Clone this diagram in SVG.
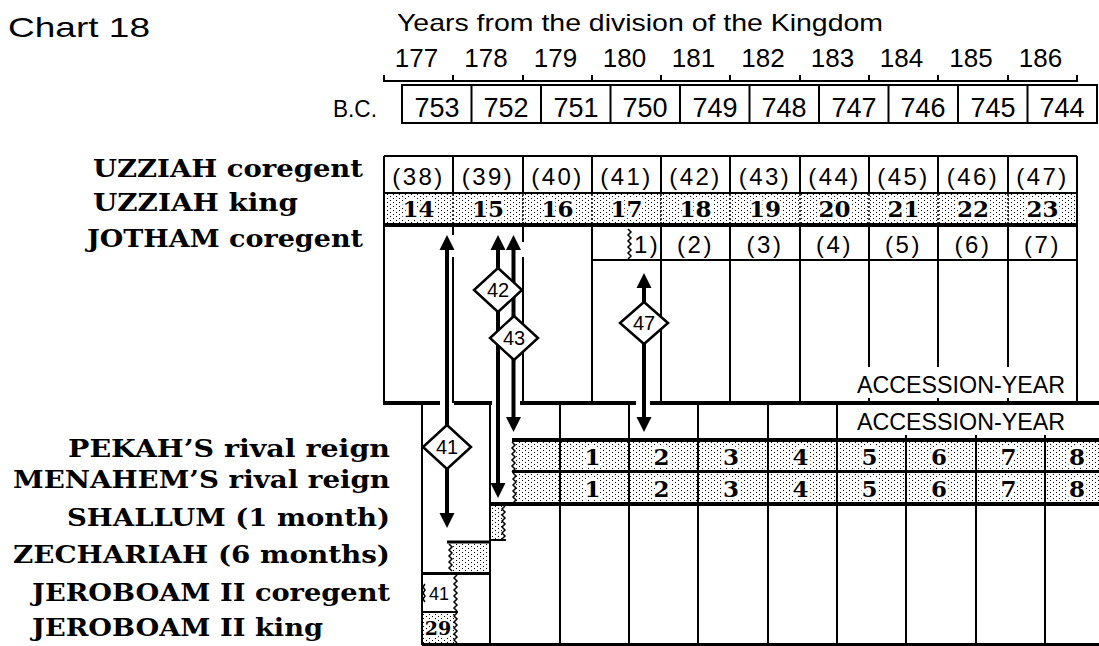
<svg xmlns="http://www.w3.org/2000/svg" width="1099" height="646" viewBox="0 0 1099 646">
<defs>
<pattern id="dots" width="6" height="4" patternUnits="userSpaceOnUse"><rect width="6" height="4" fill="#fff"/><rect width="1" height="1" fill="#000"/><rect x="3" y="2" width="1" height="1" fill="#000"/></pattern>
<path id="au" d="M0,0 L7.5,15 L-7.5,15 Z" fill="#000"/>
<path id="ad" d="M0,0 L7.5,-15 L-7.5,-15 Z" fill="#000"/>
</defs>
<style>
.ln{stroke:#000;stroke-width:2;fill:none}
.tk{stroke:#000;stroke-width:4;fill:none}
.t3{stroke:#000;stroke-width:3;fill:none}
.dl{stroke:#000;stroke-width:1.5;stroke-dasharray:2 2;fill:none}
.zz{stroke:#000;stroke-width:1.5;fill:none}
.dot{fill:url(#dots);shape-rendering:crispEdges}
.sans{font-family:"Liberation Sans","DejaVu Sans",Arial,sans-serif;fill:#000}
.num{font-family:"Liberation Sans","DejaVu Sans",Arial,sans-serif;font-size:26px;text-anchor:middle;fill:#000}
.par{font-family:"Liberation Sans","DejaVu Sans",Arial,sans-serif;font-size:24px;text-anchor:middle;letter-spacing:2.5px;fill:#000}
.lab{font-family:"DejaVu Serif","Liberation Serif",serif;font-weight:bold;font-size:24px;fill:#000}
.bn{font-family:"DejaVu Serif","Liberation Serif",serif;font-weight:bold;font-size:23px;text-anchor:middle;fill:#000;stroke:#fff;stroke-width:6px;stroke-linejoin:round;paint-order:stroke}
.arr{stroke:#000;stroke-width:4;fill:none}
.dia{fill:#fff;stroke:#000;stroke-width:2.5}
.dt{font-family:"Liberation Sans","DejaVu Sans",sans-serif;font-size:20px;text-anchor:middle;fill:#000}
</style>
<rect width="1099" height="646" fill="#fff"/>

<g id="header">
<text class="sans" x="8" y="37" style="font-size:28px" textLength="142" lengthAdjust="spacingAndGlyphs">Chart 18</text>
<text class="sans" x="397" y="31" style="font-size:24px" textLength="486" lengthAdjust="spacingAndGlyphs">Years from the division of the Kingdom</text>
<g class="num">
<text x="416.5" y="67">177</text><text x="486" y="67">178</text><text x="555.5" y="67">179</text><text x="624.5" y="67">180</text><text x="693.5" y="67">181</text><text x="763" y="67">182</text><text x="832.5" y="67">183</text><text x="901.5" y="67">184</text><text x="971" y="67">185</text><text x="1040.5" y="67">186</text>
</g>
<path class="ln" d="M384,81 H1077 M384,75 V82 M453,75 V82 M523,75 V82 M592,75 V82 M661,75 V82 M730,75 V82 M800,75 V82 M869,75 V82 M938,75 V82 M1008,75 V82 M1077,75 V82"/>
</g>

<g id="bc-row">
<text class="sans" x="333" y="117" style="font-size:24px" textLength="44" lengthAdjust="spacingAndGlyphs">B.C.</text>
<rect class="ln" x="402" y="85" width="695" height="38"/>
<path class="ln" d="M471.5,85 V123 M541,85 V123 M610.5,85 V123 M680,85 V123 M749.5,85 V123 M819,85 V123 M888.5,85 V123 M958,85 V123 M1027.5,85 V123"/>
<g class="num" style="font-size:27px">
<text x="437" y="117">753</text><text x="506" y="117">752</text><text x="576" y="117">751</text><text x="645" y="117">750</text><text x="715" y="117">749</text><text x="784" y="117">748</text><text x="854" y="117">747</text><text x="923" y="117">746</text><text x="993" y="117">745</text><text x="1062" y="117">744</text>
</g>
</g>

<g id="labels">
<text class="lab" x="93" y="177" textLength="270" lengthAdjust="spacingAndGlyphs">UZZIAH coregent</text>
<text class="lab" x="93" y="211" textLength="205" lengthAdjust="spacingAndGlyphs">UZZIAH king</text>
<text class="lab" x="87" y="247" textLength="276" lengthAdjust="spacingAndGlyphs">JOTHAM coregent</text>
<text class="lab" x="68" y="457" textLength="322" lengthAdjust="spacingAndGlyphs">PEKAH’S rival reign</text>
<text class="lab" x="13" y="488" textLength="377" lengthAdjust="spacingAndGlyphs">MENAHEM’S rival reign</text>
<text class="lab" x="67" y="526" textLength="323" lengthAdjust="spacingAndGlyphs">SHALLUM (1 month)</text>
<text class="lab" x="13" y="563" textLength="377" lengthAdjust="spacingAndGlyphs">ZECHARIAH (6 months)</text>
<text class="lab" x="32" y="601" textLength="358" lengthAdjust="spacingAndGlyphs">JEROBOAM II coregent</text>
<text class="lab" x="32" y="636" textLength="291" lengthAdjust="spacingAndGlyphs">JEROBOAM II king</text>
</g>

<g id="uzziah-coregent">
<path class="ln" d="M384,156 H1077"/>
<path class="ln" stroke-width="2.5" d="M453,156 V193 M523,156 V193 M592,156 V193 M661,156 V193 M730,156 V193 M800,156 V193 M869,156 V193 M938,156 V193 M1008,156 V193"/>
<g class="par">
<text x="418.5" y="185">(38)</text><text x="488" y="185">(39)</text><text x="557.5" y="185">(40)</text><text x="626.5" y="185">(41)</text><text x="695.5" y="185">(42)</text><text x="765" y="185">(43)</text><text x="834.5" y="185">(44)</text><text x="903.5" y="185">(45)</text><text x="973" y="185">(46)</text><text x="1042.5" y="185">(47)</text>
</g>
<path class="ln" d="M384,193 H1077"/>
</g>

<g id="uzziah-king">
<rect class="dot" x="385" y="194" width="691" height="29"/>
<path class="dl" d="M453,194 V223 M523,194 V223 M592,194 V223 M661,194 V223 M730,194 V223 M800,194 V223 M869,194 V223 M938,194 V223 M1008,194 V223"/>
<g class="bn">
<text x="418.5" y="217">14</text><text x="488" y="217">15</text><text x="557.5" y="217">16</text><text x="626.5" y="217">17</text><text x="695.5" y="217">18</text><text x="765" y="217">19</text><text x="834.5" y="217">20</text><text x="903.5" y="217">21</text><text x="973" y="217">22</text><text x="1042.5" y="217">23</text>
</g>
<path class="tk" d="M384,225 H1077"/>
</g>

<g id="jotham-coregent">
<path class="ln" d="M384,156 V405 M1077,156 V405"/>
<path class="ln" d="M453,227 V235 M453,257 V403 M523,227 V242 M523,257 V403 M592,227 V403 M661,227 V403 M730,227 V403 M800,227 V403 M869,227 V367 M869,398 V403 M938,227 V367 M938,398 V403 M1008,227 V367 M1008,398 V403"/>
<path class="ln" d="M592,260 H1077"/>
<path class="zz" d="M628,229 l3,3 -3,3 3,3 -3,3 3,3 -3,3 3,3 -3,3 3,3 -3,3"/>
<text class="par" x="634" y="253" style="text-anchor:start">1)</text>
<g class="par">
<text x="695.5" y="253">(2)</text><text x="765" y="253">(3)</text><text x="834.5" y="253">(4)</text><text x="903.5" y="253">(5)</text><text x="973" y="253">(6)</text><text x="1042.5" y="253">(7)</text>
</g>
<text class="sans" x="857" y="393" style="font-size:23px" textLength="208" lengthAdjust="spacingAndGlyphs">ACCESSION-YEAR</text>
<path class="tk" d="M384,403 H440 M454,403 H492 M520,403 H636 M650,403 H1099"/>
</g>

<g id="lower-grid">
<path class="ln" d="M422,403 V645 M490,403 V645 M560,403 V643 M629,403 V643 M698,403 V643 M768,403 V643 M837,403 V643 M906,435 V643 M976,435 V643 M1045,435 V643"/>
<text class="sans" x="857" y="430" style="font-size:23px" textLength="208" lengthAdjust="spacingAndGlyphs">ACCESSION-YEAR</text>
<path class="t3" d="M422,644.5 H1099"/>
</g>

<g id="pekah">
<rect class="dot" x="514" y="442" width="585" height="28"/>
<path class="zz" d="M512,442 l3,3 -3,3 3,3 -3,3 3,3 -3,3 3,3 -3,3 3,3 -3,3"/>
<path class="ln" stroke-width="1.5" d="M560,442 V470 M629,442 V470 M698,442 V470 M768,442 V470 M837,442 V470 M906,442 V470 M976,442 V470 M1045,442 V470"/>
<g class="bn">
<text x="592.5" y="465">1</text><text x="661.5" y="465">2</text><text x="731" y="465">3</text><text x="800.5" y="465">4</text><text x="869.5" y="465">5</text><text x="939" y="465">6</text><text x="1008.5" y="465">7</text><text x="1077" y="465">8</text>
</g>
<path class="tk" d="M512,440 H1099"/>
<path class="t3" d="M512,471.5 H1099"/>
</g>

<g id="menahem">
<rect class="dot" x="515" y="473" width="584" height="29"/>
<path class="zz" d="M513,473 l3,3 -3,3 3,3 -3,3 3,3 -3,3 3,3 -3,3 3,3 -3,3"/>
<path class="ln" stroke-width="1.5" d="M560,473 V502 M629,473 V502 M698,473 V502 M768,473 V502 M837,473 V502 M906,473 V502 M976,473 V502 M1045,473 V502"/>
<g class="bn">
<text x="592.5" y="497">1</text><text x="661.5" y="497">2</text><text x="731" y="497">3</text><text x="800.5" y="497">4</text><text x="869.5" y="497">5</text><text x="939" y="497">6</text><text x="1008.5" y="497">7</text><text x="1077" y="497">8</text>
</g>
<path class="tk" d="M490,504 H1099"/>
</g>

<g id="shallum">
<rect class="dot" x="491" y="506" width="12" height="33"/>
<path class="zz" d="M505,506 l-3,3 3,3 -3,3 3,3 -3,3 3,3 -3,3 3,3 -3,3 3,3 -3,3"/>
<path class="ln" d="M490,540 H506"/>
</g>

<g id="zechariah">
<rect class="dot" x="451" y="544" width="38" height="28"/>
<path class="zz" d="M449,544 l3,3 -3,3 3,3 -3,3 3,3 -3,3 3,3 -3,3 3,3"/>
<path class="t3" d="M447,542 H490 M422,573.5 H490"/>
</g>

<g id="jeroboam-coregent">
<path class="zz" d="M457,575 l-3,3 3,3 -3,3 3,3 -3,3 3,3 -3,3 3,3 -3,3 3,3 -3,3 3,3"/>
<path class="zz" d="M425,584 l-2,3 2,3 -2,3 2,3 -2,3 2,3"/>
<text class="dt" x="439" y="600" style="font-size:18px">41</text>
<path class="ln" d="M422,612 H458"/>
</g>

<g id="jeroboam-king">
<rect class="dot" x="423" y="613" width="31" height="30"/>
<path class="zz" d="M457,613 l-3,3 3,3 -3,3 3,3 -3,3 3,3 -3,3 3,3 -3,3 3,3"/>
<text class="bn" x="438" y="635" style="font-size:19px;stroke-width:4px">29</text>
</g>

<g id="connectors">
<path class="arr" d="M447,249 V514 M498,249 V485 M513.5,249 V419 M644,287 V419"/>
<use href="#au" x="447" y="235"/>
<use href="#ad" x="447" y="528"/>
<use href="#au" x="498" y="235"/>
<use href="#ad" x="498" y="498"/>
<use href="#au" x="513.5" y="235"/>
<use href="#ad" x="513.5" y="432"/>
<use href="#au" x="644" y="273"/>
<use href="#ad" x="644" y="432"/>
</g>

<g id="diamond-42">
<polygon class="dia" points="498,268 522,290 498,312 474,290"/>
<text class="dt" x="498" y="297">42</text>
</g>
<g id="diamond-43">
<polygon class="dia" points="514,316 538,338 514,360 490,338"/>
<text class="dt" x="514" y="345">43</text>
</g>
<g id="diamond-47">
<polygon class="dia" points="644,302 668,323 644,344 620,323"/>
<text class="dt" x="644" y="330">47</text>
</g>
<g id="diamond-41">
<polygon class="dia" points="447,425 471,447 447,469 423,447"/>
<text class="dt" x="447" y="454">41</text>
</g>
</svg>
